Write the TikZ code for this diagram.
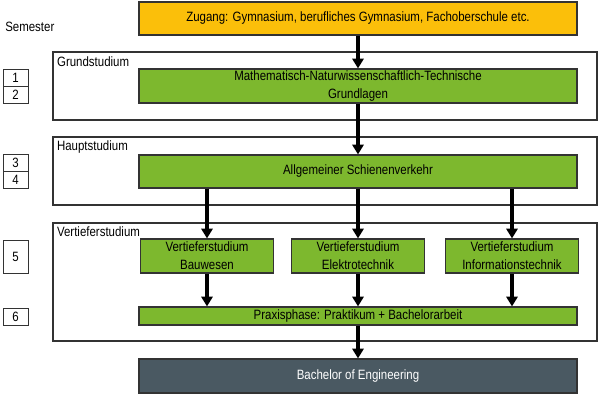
\documentclass[tikz,border=0pt]{standalone}
\usepackage{fontspec}
\setmainfont{Liberation Sans}[FakeStretch=0.85]
\usepackage{xcolor}
\usepackage{tikz}
\usetikzlibrary{arrows.meta, positioning, calc}
\definecolor{zugorange}{HTML}{FBBF0A}
\definecolor{studgreen}{HTML}{7DB82E}
\definecolor{abslate}{HTML}{4A5962}
\tikzset{
  phase/.style={rectangle, draw=black!80, fill=studgreen, line width=0.8pt,
                text centered, align=center, inner sep=1pt},
  frame/.style={rectangle, draw=black!80, line width=0.8pt,
                minimum width=13.6cm},
  framelbl/.style={anchor=west, inner sep=0pt},
  sem/.style={rectangle, draw=black!80, line width=0.6pt,
              minimum width=0.625cm, inner sep=0pt},
  flow/.style={-{Triangle[length=7pt, width=8pt]}, line width=2.2pt, draw=black},
}

\begin{document}
\begin{tikzpicture}[font=\fontsize{9.6}{12.6}\selectfont]
  \useasboundingbox (0,0) rectangle (15,-10);

  % Frames
  \node[frame, minimum height=1.7cm]  (grund)  at (8.125,-2.15)  {};
  \node[frame, minimum height=1.7cm]  (haupt)  at (8.125,-4.275) {};
  \node[frame, minimum height=2.95cm] (vertief) at (8.125,-7.05) {};
  \node[framelbl] (lgrund)   at (1.42,-1.55)  {Grundstudium};
  \node[framelbl] (lhaupt)   at (1.42,-3.67)  {Hauptstudium};
  \node[framelbl] (lvertief) at (1.42,-5.78)  {Vertieferstudium};

  % Phases
  \node[phase, fill=zugorange, minimum width=10.95cm, minimum height=0.825cm]
       (zug) at (8.95,-0.4625) {Zugang: Gymnasium, berufliches Gymnasium, Fachoberschule etc.};
  \node[phase, minimum width=10.95cm, minimum height=0.85cm]
       (mnt) at (8.95,-2.15) {Mathematisch-Naturwissenschaftlich-Technische\\Grundlagen};
  \node[phase, minimum width=10.95cm, minimum height=0.825cm]
       (asv) at (8.95,-4.2875) {Allgemeiner Schienenverkehr};
  \node[phase, minimum width=3.325cm, minimum height=0.85cm]
       (bau) at (5.175,-6.4) {Vertieferstudium\\Bauwesen};
  \node[phase, minimum width=3.325cm, minimum height=0.85cm]
       (etech) at (8.95,-6.4) {Vertieferstudium\\Elektrotechnik};
  \node[phase, minimum width=3.325cm, minimum height=0.85cm]
       (itech) at (12.8,-6.4) {Vertieferstudium\\Informationstechnik};
  \node[phase, minimum width=10.95cm, minimum height=0.45cm]
       (praxis) at (8.95,-7.9) {Praxisphase: Praktikum + Bachelorarbeit};
  \node[phase, fill=abslate, text=white, minimum width=10.95cm, minimum height=0.85cm]
       (beng) at (8.95,-9.4) {Bachelor of Engineering};

  % Semester column
  \node[anchor=west, inner sep=0pt] (semlbl) at (0.125,-0.675) {Semester};
  \node[sem, minimum height=0.425cm] (s1) at (0.3875,-1.9375) {1};
  \node[sem, minimum height=0.425cm] (s2) at (0.3875,-2.3625) {2};
  \node[sem, minimum height=0.425cm] (s3) at (0.3875,-4.075)  {3};
  \node[sem, minimum height=0.425cm] (s4) at (0.3875,-4.5)    {4};
  \node[sem, minimum height=0.825cm] (s5) at (0.3875,-6.4125) {5};
  \node[sem, minimum height=0.425cm] (s6) at (0.3875,-7.9125) {6};

  % Flow
  \draw[flow] (zug) -- (mnt);
  \draw[flow] (mnt) -- (asv);
  \draw[flow] (asv.south -| bau)   -- (bau);
  \draw[flow] (asv)                -- (etech);
  \draw[flow] (asv.south -| itech) -- (itech);
  \draw[flow] (bau)   -- (praxis.north -| bau);
  \draw[flow] (etech) -- (praxis);
  \draw[flow] (itech) -- (praxis.north -| itech);
  \draw[flow] (praxis) -- (beng);

\end{tikzpicture}
\end{document}
